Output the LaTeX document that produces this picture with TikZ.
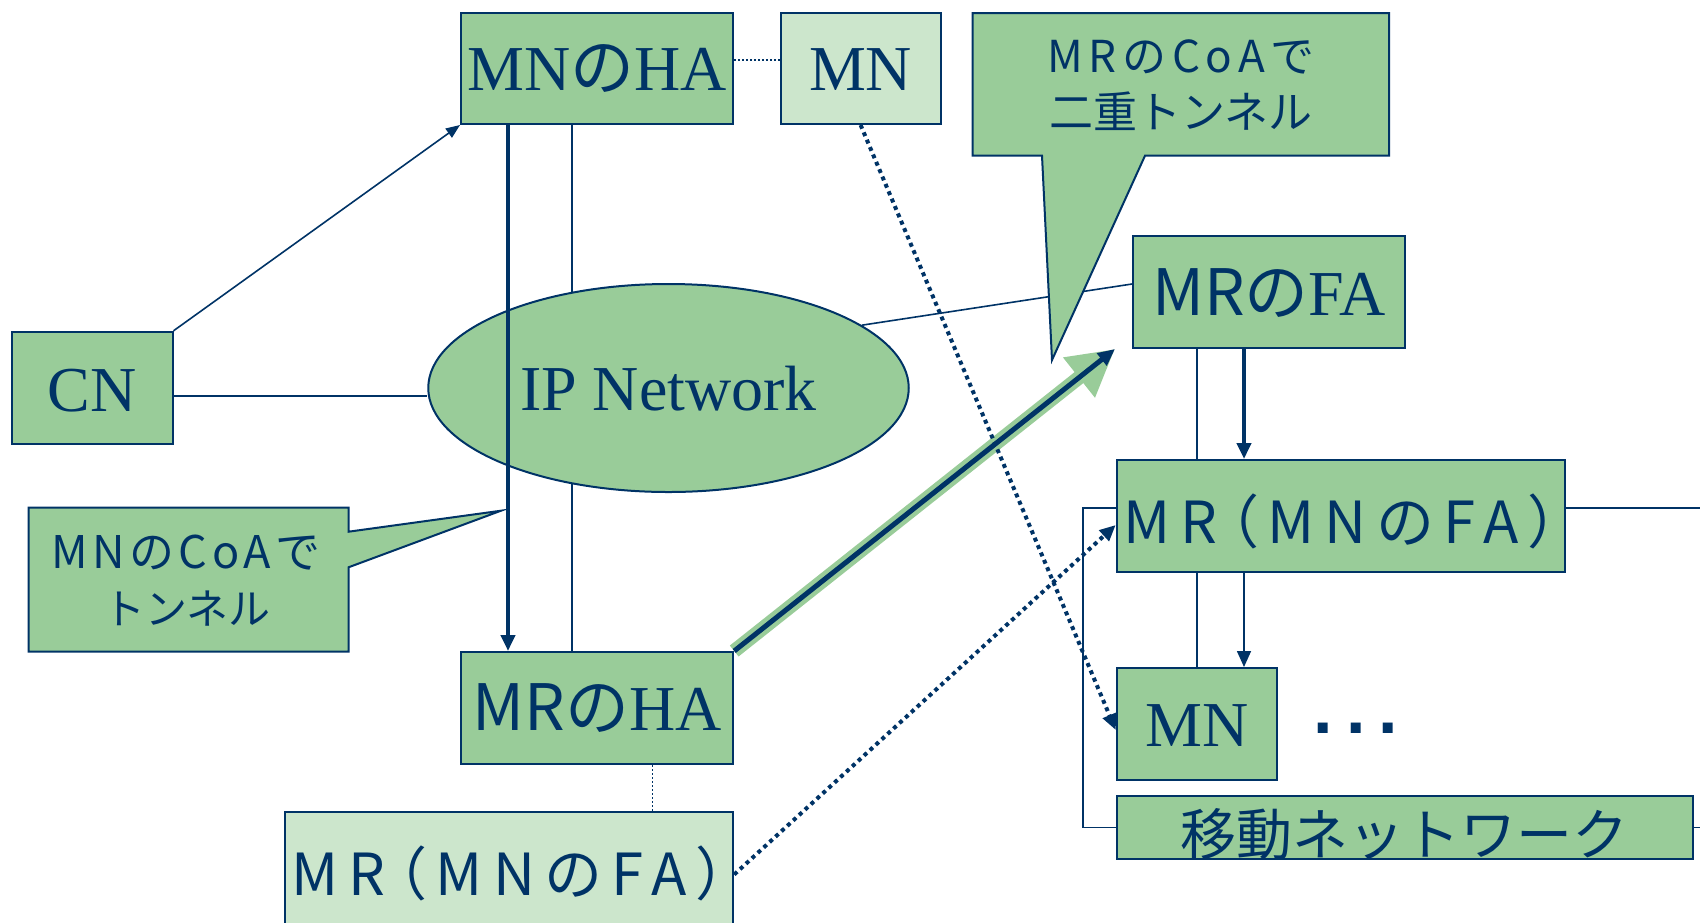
\documentclass[tikz,border=0pt]{standalone}
\usepackage{fontspec}
\setmainfont{Liberation Serif}
\newfontfamily\jp{Noto Sans CJK JP}
\newfontfamily\jpp{Noto Sans CJK JP}[RawFeature=+palt, LetterSpace=18]
\newfontfamily\jpa{Noto Sans CJK JP}[LetterSpace=13]
\newfontfamily\jpb{Noto Sans CJK JP}[LetterSpace=10]
\newfontfamily\lsans{Liberation Sans}
\usetikzlibrary{arrows.meta,shapes.geometric}
\definecolor{navy}{RGB}{0,51,102}
\definecolor{midg}{RGB}{153,204,153}
\definecolor{lightg}{RGB}{204,230,204}
\pgfdeclarelayer{bg}
\pgfsetlayers{bg,main}
\begin{document}
\begin{tikzpicture}[x=1pt,y=-1pt,
  box/.style={draw=navy, line width=2pt, fill=midg, inner sep=0pt, text=navy, rectangle},
  lbox/.style={box, fill=lightg},
  thin/.style={draw=navy, line width=1.6pt},
  thick/.style={draw=navy, line width=4.2pt},
  dotthin/.style={draw=navy, line width=1.5pt, dash pattern=on 2pt off 2pt},
  dotthick/.style={draw=navy, line width=4pt, dash pattern=on 4pt off 4pt},
  tipS/.style={-{Triangle[length=14pt,width=11pt]}},
  tipM/.style={-{Triangle[length=16pt,width=14pt]}},
  serif/.style={font=\fontsize{64}{70}\selectfont},
  jpbig/.style={font=\jpp\fontsize{58}{64}\selectfont},
  calltext/.style={text=navy, inner sep=0pt, anchor=base},
]
\useasboundingbox (0,0) rectangle (1700,922);

% boxes
\node[box, serif, minimum width=272pt, minimum height=111pt, text height=44pt, text depth=0pt] (mnha) at (597,68.5) {MN{\jp の}HA};
\node[lbox, serif, minimum width=160pt, minimum height=111pt, text height=44pt, text depth=0pt] (mnt) at (860.6,68.5) {MN};
\node[box, serif, minimum width=160.6pt, minimum height=111.8pt, text height=48pt, text depth=0pt] (cn) at (92.2,387.7) {CN};
\node[box, ellipse, serif, minimum width=480.5pt, minimum height=208pt, text height=45pt, text depth=0pt] (ipnet) at (668.5,388) {IP Network};
\node[box, serif, minimum width=272pt, minimum height=112pt, text height=46pt, text depth=0pt] (mrfa) at (1269,292) {{\jp MRの}FA};
\node[box, jpbig, minimum width=448pt, minimum height=112pt, text height=54pt, text depth=0pt] (mrm) at (1340.7,516) {MR（MNのFA）};
\node[box, serif, minimum width=160pt, minimum height=112pt, text height=45pt, text depth=0pt] (mnb) at (1196.7,724) {MN};
\node[box, font=\jp\fontsize{56}{60}\selectfont, minimum width=576pt, minimum height=63pt, text height=55pt, text depth=0pt] (ido) at (1404.5,827.5) {移動ネットワーク};
\node[box, serif, minimum width=272.4pt, minimum height=112pt, text height=44pt, text depth=0pt] (mrha) at (597,708) {{\jp MRの}HA};
\node[lbox, jpbig, minimum width=448.4pt, minimum height=112pt, text height=55pt, text depth=0pt] (mrl) at (509,867.5) {MR（MNのFA）};
\node[text=navy, inner sep=0pt, anchor=base, font=\lsans\bfseries\fontsize{70}{70}\selectfont] (dots) at (1356,733) {.\hspace{13pt}.\hspace{13pt}.};

% line behind the ellipse
\begin{pgfonlayer}{bg}
\draw[thin] ([xshift=-25pt]mnha.south) -- ([xshift=-25pt]mrha.north);
\end{pgfonlayer}

% connectors
\draw[thin] ([yshift=-8pt]cn.east) -- ([yshift=-8pt]cn.east -| ipnet.west);
\draw[thin, tipS] (cn.north east) -- (mnha.south west);
\draw[thin] (ipnet.18) -- ([yshift=8pt]mrfa.west);
\draw[dotthin] ([yshift=8.5pt]mnha.east) -- ([yshift=8.5pt]mnt.west);
\draw[dotthin] ([xshift=55.7pt]mrha.south) -- ([xshift=55.7pt]mrha.south |- mrl.north);
\draw[thick, tipM] ([xshift=-89pt]mnha.south) -- ([xshift=-89pt]mrha.north);

\coordinate (tipfa) at ([xshift=-17pt]mrfa.south west);
\draw[midg, line width=14pt, -{Triangle[length=46pt,width=48pt]}] (mrha.north east) -- (tipfa);
\draw[navy, line width=5pt, -{Triangle[length=17pt,width=15pt]}] (mrha.north east) -- (tipfa);

\draw[thin] (mnb.north |- mrfa.south) -- (mnb.north |- mrm.north);
\draw[thick, tipM] ([xshift=47.3pt]mnb.north |- mrfa.south) -- ([xshift=47.3pt]mnb.north |- mrm.north);
\draw[thin] (mnb.north |- mrm.south) -- (mnb.north);
\draw[thin, tipM] ([xshift=47.3pt]mnb.north |- mrm.south) -- ([xshift=47.3pt]mnb.north);

\draw[thin] ([yshift=8.3pt]mrm.west) -- ++(-32.6,0) |- (ido.west);
\draw[thin] ([yshift=8.3pt]mrm.east) -- ++(140,0);
\draw[thin] (ido.east) -- ++(12,0);

\draw[dotthick, tipM] (mnt.south) -- ([yshift=-6pt]mnb.west);
\draw[dotthick, tipM] ([yshift=-7pt]mrl.east) -- ([yshift=-9pt]mrm.west);

% callouts
\draw[navy, line width=2pt, fill=midg] (972.5,13) -- (1389,13) -- (1389,155.7) -- (1145,155.7) -- (1052,360) -- (1042,155.7) -- (972.5,155.7) -- cycle;
\node[calltext, font=\jpa\fontsize{44}{57}\selectfont] (c1a) at (1181,72) {MRのCoAで};
\node[calltext, font=\jp\fontsize{44}{57}\selectfont] (c1b) at (1181,128) {二重トンネル};

\draw[navy, line width=2pt, fill=midg] (28.5,507.7) -- (348.5,507.7) -- (348.5,531.7) -- (501,510.7) -- (348.5,567.3) -- (348.5,651.7) -- (28.5,651.7) -- cycle;
\node[calltext, font=\jpb\fontsize{45}{56}\selectfont] (c2a) at (186,568) {MNのCoAで};
\node[calltext, font=\jp\fontsize{42}{56}\selectfont] (c2b) at (186.6,624) {トンネル};
\end{tikzpicture}
\end{document}
